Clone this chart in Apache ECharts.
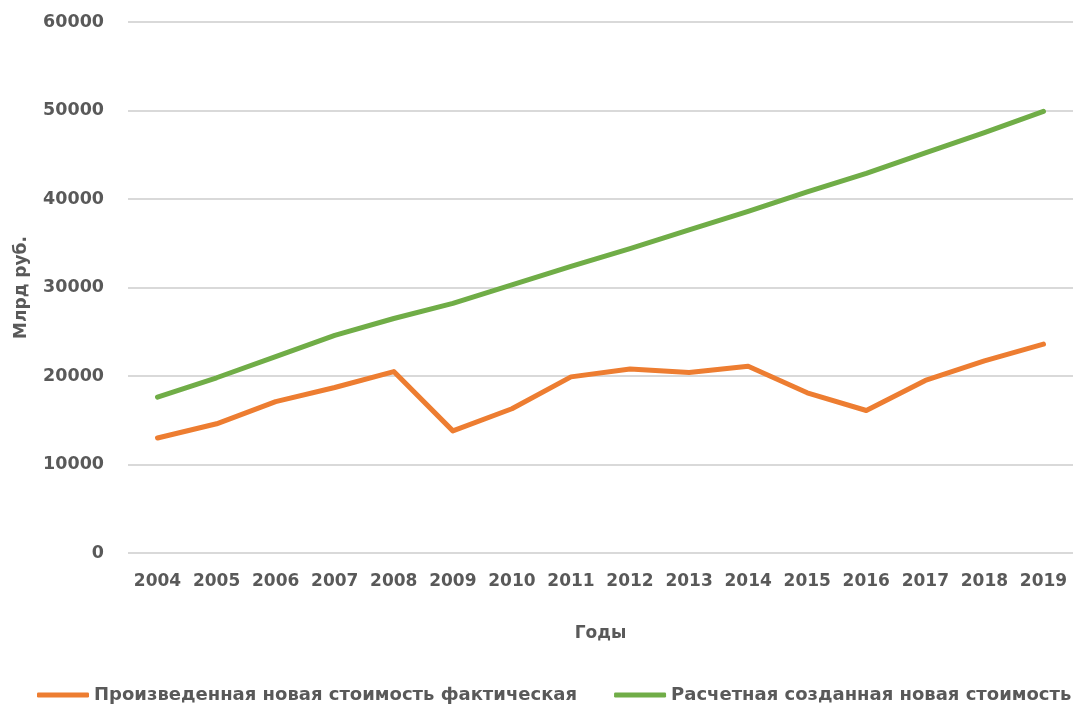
<!DOCTYPE html>
<html><head><meta charset="utf-8">
<script src="https://cdn.jsdelivr.net/npm/echarts@6/dist/echarts.min.js"></script>
<style>html,body{margin:0;padding:0;background:#fff}#c{width:1088px;height:704px}</style>
</head><body><div id="c"></div>
<script>
const years = ['2004','2005','2006','2007','2008','2009','2010','2011','2012','2013','2014','2015','2016','2017','2018','2019'];
const actualValues = [13000,14600,17100,18700,20500,13800,16300,19900,20800,20400,21100,18100,16100,19500,21700,23600];
const estimatedValues = [17600,19800,22200,24600,26500,28200,30300,32400,34400,36500,38600,40800,42900,45200,47500,49900];
const seriesNames = ['Произведенная новая стоимость фактическая','Расчетная созданная новая стоимость'];
const yAxisTitle = 'Млрд руб.';
const xAxisTitle = 'Годы';

const font = 'DejaVu Sans, sans-serif';
const chart = echarts.init(document.getElementById('c'));
chart.setOption({
  animation:false,
  grid:{left:128,right:15,top:22,bottom:151},
  legend:{
    top:681,left:32,itemGap:37,itemWidth:52,itemHeight:5,
    icon:'roundRect',
    textStyle:{fontFamily:font,fontWeight:'bold',fontSize:18,color:'#595959'},
    data:seriesNames
  },
  xAxis:{
    type:'category',data:years,boundaryGap:true,
    axisLine:{show:false},axisTick:{show:false},
    axisLabel:{interval:0,fontFamily:font,fontWeight:'bold',fontSize:17,color:'#595959',margin:20},
    name:xAxisTitle,nameLocation:'middle',nameGap:72,
    nameTextStyle:{fontFamily:font,fontWeight:'bold',fontSize:17,color:'#595959'}
  },
  yAxis:{
    type:'value',min:0,max:60000,interval:10000,
    axisLine:{show:false},axisTick:{show:false},
    axisLabel:{fontFamily:font,fontWeight:'bold',fontSize:17.5,color:'#595959',margin:24,
      formatter:function(v){return String(v);}},
    splitLine:{lineStyle:{color:'#d9d9d9',width:2}},
    name:yAxisTitle,nameLocation:'middle',nameGap:98,nameRotate:90,
    nameTextStyle:{fontFamily:font,fontWeight:'bold',fontSize:17,color:'#595959'}
  },
  series:[
    {name:seriesNames[0],type:'line',data:actualValues,symbol:'none',
     lineStyle:{color:'#ED7D31',width:5,cap:'round',join:'round'},itemStyle:{color:'#ED7D31'}},
    {name:seriesNames[1],type:'line',data:estimatedValues,symbol:'none',
     lineStyle:{color:'#70AD47',width:5,cap:'round',join:'round'},itemStyle:{color:'#70AD47'}}
  ]
});
</script></body></html>
